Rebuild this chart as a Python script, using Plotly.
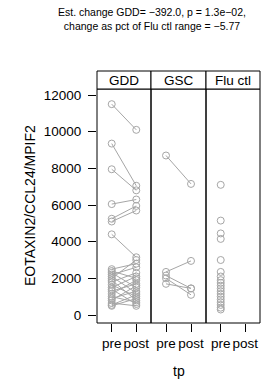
import plotly.graph_objects as go

panels = ["GDD", "GSC", "Flu ctl"]
tick_labels = ["pre", "post"]

gdd_pre = [11500, 9350, 7950, 6050, 5250, 5100, 4400, 2500, 2400, 2300, 2200, 2100, 2000, 1900,
           1800, 1650, 1500, 1400, 1300, 1150, 1000, 900, 800, 650, 550, 500]
gdd_post = [10100, 7050, 6800, 6300, 5950, 5700, 3150, 2800, 2000, 1500, 2600, 1200, 3000, 800,
            2300, 1000, 2100, 600, 1700, 1900, 700, 1300, 1600, 500, 1100, 900]

gsc_pre = [8700, 2350, 2150, 2000, 1700]
gsc_post = [7150, 2950, 1450, 1100, 1450]

flu_pre = [7100, 5150, 4450, 4150, 3000, 2350, 2100, 1900, 1750, 1600, 1450, 1300, 1150,
           1000, 850, 700, 550, 400, 300]

y_ticks = [0, 2000, 4000, 6000, 8000, 10000, 12000]

title_lines = ["Est. change GDD= \u2212392.0, p = 1.3e\u221202,",
               "change as pct of Flu ctl range = \u22125.77"]

GREY = "#a6a6a6"
FS = 13.5
fig = go.Figure()

W, H = 262, 384
L, R, T, B = 97, 2, 71, 61
PW, PH = W - L - R, H - T - B  # 163, 252
doms = [[0, 54 / PW], [54 / PW, 109 / PW], [109 / PW, 1]]
ytop = (PH - 18) / PH

def add_pairs(pre, post, xa, ya):
    for a, b in zip(pre, post):
        fig.add_trace(go.Scatter(x=[0, 1], y=[a, b], mode="lines+markers",
                                 line=dict(color=GREY, width=1),
                                 marker=dict(symbol="circle-open", size=7, color=GREY,
                                             line=dict(width=1)),
                                 xaxis=xa, yaxis=ya, showlegend=False))

add_pairs(gdd_pre, gdd_post, "x", "y")
add_pairs(gsc_pre, gsc_post, "x2", "y2")
fig.add_trace(go.Scatter(x=[0] * len(flu_pre), y=flu_pre, mode="markers",
                         marker=dict(symbol="circle-open", size=7, color=GREY, line=dict(width=1)),
                         xaxis="x3", yaxis="y3", showlegend=False))

yr = [-436, 12327]
xr = [-0.6, 1.6]
layout = dict(width=W, height=H, margin=dict(l=L, r=R, t=T, b=B, autoexpand=False),
              plot_bgcolor="white", paper_bgcolor="white",
              font=dict(family="Liberation Sans, Arial, sans-serif", color="black", size=FS))
for i in range(3):
    s = "" if i == 0 else str(i + 1)
    layout["xaxis" + s] = dict(domain=doms[i], range=xr, tickvals=[0, 1], ticktext=tick_labels,
                               showgrid=False, zeroline=False, showline=False, tickangle=0,
                               ticks="outside", ticklen=8, automargin=False,
                               tickcolor="black", anchor="y" + s, tickfont=dict(size=FS))
    yd = dict(domain=[0, ytop], range=yr, showgrid=False, zeroline=False, showline=False,
              anchor="x" + s, automargin=False)
    if i == 0:
        yd.update(tickvals=y_ticks, tickformat="d", ticks="outside", ticklen=8, tickangle=0,
                  tickcolor="black", tickfont=dict(size=FS), ticklabelstandoff=4)
    else:
        yd.update(showticklabels=False, ticks="")
    layout["yaxis" + s] = yd
fig.update_layout(**layout)

for i, name in enumerate(panels):
    fig.add_shape(type="rect", xref="paper", yref="paper", x0=doms[i][0], x1=doms[i][1],
                  y0=0, y1=ytop, line=dict(color="black", width=1), layer="above")
    fig.add_shape(type="rect", xref="paper", yref="paper", x0=doms[i][0], x1=doms[i][1],
                  y0=ytop, y1=1, line=dict(color="black", width=1), fillcolor="white")
    fig.add_annotation(text=name, xref="paper", yref="paper", x=(doms[i][0] + doms[i][1]) / 2,
                       y=(ytop + 1) / 2, showarrow=False, font=dict(size=FS),
                       xanchor="center", yanchor="middle")

fig.add_annotation(text="EOTAXIN2/CCL24/MPIF2", xref="paper", yref="paper",
                   x=(30 - L) / PW, y=ytop / 2, textangle=-90, showarrow=False,
                   xanchor="center", yanchor="middle", font=dict(size=14))
fig.add_annotation(text="tp", xref="paper", yref="paper", x=0.5, y=-(371 - 323) / PH,
                   xanchor="center", yanchor="middle", showarrow=False, font=dict(size=14))
fig.add_annotation(text="<br>".join(title_lines), xref="paper", yref="paper",
                   x=(152 - L) / PW, y=1 + (T - 18.5) / PH, xanchor="center", yanchor="middle",
                   showarrow=False, font=dict(size=10.5), align="center")

fig.write_html("out.html", config={"displayModeBar": False},
               post_script="document.body.style.margin='0';document.body.style.overflow='hidden';")
